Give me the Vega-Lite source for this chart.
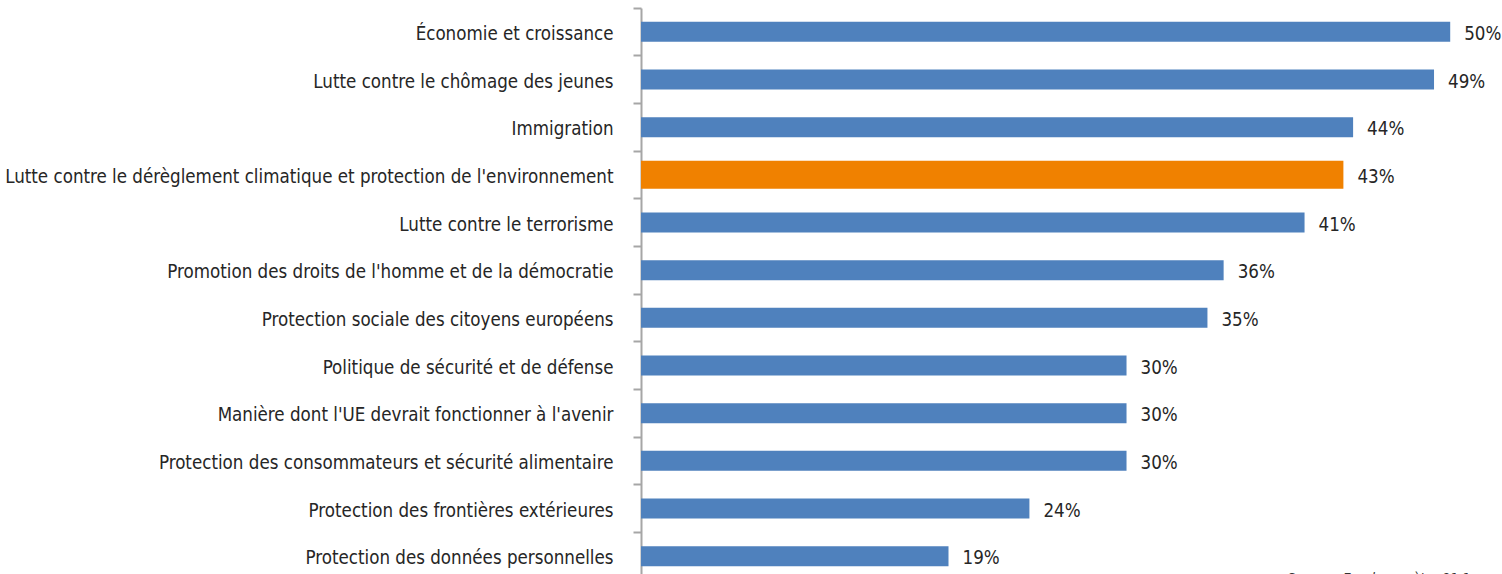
{
  "$schema": "https://vega.github.io/schema/vega-lite/v6.json",
  "width": 861,
  "height": 572,
  "autosize": {"type": "none"},
  "padding": {"left": 641, "top": 8, "right": 0, "bottom": 0},
  "background": "white",
  "config": {"view": {"stroke": null}, "font": "DejaVu Sans Condensed, sans-serif"},
  "title": {
    "text": "Source : Eurobaromètre 91.1",
    "orient": "bottom",
    "anchor": "end",
    "offset": -8,
    "dx": -32,
    "fontSize": 14,
    "fontStyle": "italic",
    "fontWeight": "normal",
    "color": "#333333",
    "baseline": "top"
  },
  "data": {
    "values": [
      {"theme": "Économie et croissance", "value": 0.50, "highlight": false},
      {"theme": "Lutte contre le chômage des jeunes", "value": 0.49, "highlight": false},
      {"theme": "Immigration", "value": 0.44, "highlight": false},
      {"theme": "Lutte contre le dérèglement climatique et protection de l'environnement", "value": 0.434, "highlight": true},
      {"theme": "Lutte contre le terrorisme", "value": 0.41, "highlight": false},
      {"theme": "Promotion des droits de l'homme et de la démocratie", "value": 0.36, "highlight": false},
      {"theme": "Protection sociale des citoyens européens", "value": 0.35, "highlight": false},
      {"theme": "Politique de sécurité et de défense", "value": 0.30, "highlight": false},
      {"theme": "Manière dont l'UE devrait fonctionner à l'avenir", "value": 0.30, "highlight": false},
      {"theme": "Protection des consommateurs et sécurité alimentaire", "value": 0.30, "highlight": false},
      {"theme": "Protection des frontières extérieures", "value": 0.24, "highlight": false},
      {"theme": "Protection des données personnelles", "value": 0.19, "highlight": false}
    ]
  },
  "encoding": {
    "y": {
      "field": "theme",
      "type": "nominal",
      "sort": null,
      "scale": {"paddingInner": 0, "paddingOuter": 0},
      "axis": {
        "title": null,
        "domain": true,
        "domainColor": "#a6a6a6",
        "domainWidth": 2,
        "ticks": true,
        "tickColor": "#a6a6a6",
        "tickWidth": 2,
        "tickSize": 8,
        "bandPosition": 0,
        "labelPadding": 20,
        "labelOffset": 2,
        "labelFontSize": 18.6,
        "labelColor": "#262626",
        "labelLimit": 900,
        "grid": false
      }
    },
    "x": {
      "field": "value",
      "type": "quantitative",
      "scale": {"domain": [0, 0.532], "nice": false, "zero": true},
      "axis": null
    }
  },
  "layer": [
    {
      "mark": {"type": "bar"},
      "encoding": {
        "color": {"condition": {"test": "datum.highlight", "value": "#f08100"}, "value": "#4f81bd"},
        "size": {"condition": {"test": "datum.highlight", "value": 28}, "value": 20}
      }
    },
    {
      "mark": {"type": "text", "align": "left", "baseline": "middle", "dx": 14, "dy": 2, "fontSize": 18.6, "color": "#262626"},
      "encoding": {
        "text": {"field": "value", "type": "quantitative", "format": ".0%"}
      }
    }
  ]
}
